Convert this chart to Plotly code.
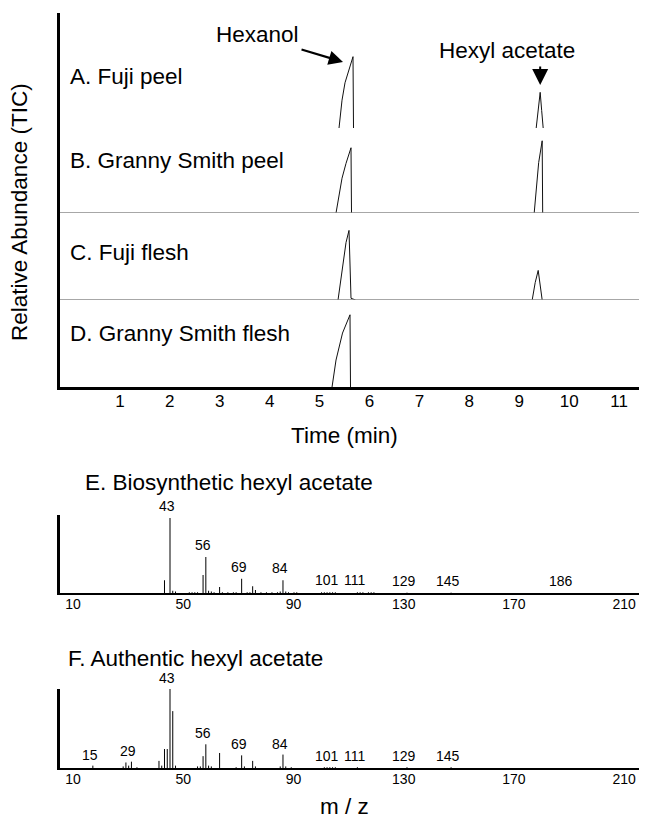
import plotly.graph_objects as go

# The page body adds an 8 px margin, so the figure is drawn 8 px smaller and
# reference pixel positions are mapped through px()/py() below.
W, H = 647, 819
OFF = 8
FW, FH = W - OFF, H - OFF
FONT = "Liberation Sans, Arial, Helvetica, sans-serif"

# ---------------- Chromatogram data (time in min, relative abundance) ----------------
a_time = [5.39, 5.45, 5.51, 5.61, 5.67, 5.68, None, 9.34, 9.38, 9.42, 9.45, 9.48]
a_abund = [0, 32, 52, 70, 82, 0, None, 0, 22, 41, 20, 0]

b_time = [5.33, 5.39, 5.45, 5.53, 5.63, 5.64, None, 9.30, 9.34, 9.39, 9.46, 9.47]
b_abund = [0, 21, 40, 57, 75, 0, None, 0, 30, 58, 83, 0]

c_time = [5.37, 5.46, 5.53, 5.59, 5.63, 5.72, None, 9.26, 9.32, 9.38, 9.42, 9.46]
c_abund = [0, 37, 66, 80, 2, 0, None, 0, 20, 34, 18, 0]

d_time = [5.25, 5.33, 5.46, 5.61, 5.62]
d_abund = [0, 31, 62, 83, 0]

panel_labels = ["A. Fuji peel", "B. Granny Smith peel", "C. Fuji flesh", "D. Granny Smith flesh"]
time_ticks = [1, 2, 3, 4, 5, 6, 7, 8, 9, 10, 11]

# ---------------- Mass spectra data (m/z, relative intensity %) ----------------
e_mz = [41, 43, 44, 45, 50, 51, 52, 53, 55, 56, 57, 58, 59, 61, 62, 64, 66, 67, 69, 71, 72,
        73, 74, 76, 78, 80, 82, 83, 84, 85, 86, 88, 89, 98, 99, 100, 101, 102, 103,
        111, 112, 113, 115, 116, 117, 129, 145]
e_int = [17, 100, 3, 2, 1, 1, 1, 1, 24, 48, 3, 2, 1, 8, 1, 1, 1, 1, 19, 1, 1,
         9, 4, 1, 1, 1, 1, 2, 17, 2, 1, 1, 1, 1, 1, 1, 1, 1, 1,
         1, 1, 1, 1, 1, 1, 0.5, 0.5]
e_labels = [43, 56, 69, 84, 101, 111, 129, 145, 186]

f_mz = [15, 26, 27, 28, 29, 31, 39, 40, 41, 42, 43, 44, 45, 53, 54, 55, 56, 57, 58, 61,
        67, 69, 70, 73, 74, 83, 84, 85, 87, 99, 100, 101, 102, 103, 111, 129, 145]
f_int = [3, 2, 7, 3, 8, 1, 9, 3, 24, 24, 100, 72, 3, 2, 2, 15, 30, 3, 2, 19,
         1, 16, 2, 9, 2, 2, 17, 2, 1, 1, 1, 1, 1, 1, 1, 1, 1]
f_labels = [15, 29, 43, 56, 69, 84, 101, 111, 129, 145]

mz_ticks = [10, 50, 90, 130, 170, 210]


def px(p):
    return (p - OFF) / FW


def py(p):
    return 1 - (p - OFF) / FH


def sticks(mz, inten):
    xs, ys = [], []
    for m, i in zip(mz, inten):
        xs += [m, m, None]
        ys += [0, i, None]
    return xs, ys


fig = go.Figure()

# chromatogram traces
for t, a, ya in [(a_time, a_abund, "y"), (b_time, b_abund, "y2"),
                 (c_time, c_abund, "y3"), (d_time, d_abund, "y4")]:
    fig.add_trace(go.Scatter(x=t, y=a, xaxis="x", yaxis=ya, mode="lines",
                             line=dict(color="#111111", width=1), connectgaps=False,
                             showlegend=False, hoverinfo="skip"))

# spectra
ex, ey = sticks(e_mz, e_int)
fig.add_trace(go.Scatter(x=ex, y=ey, xaxis="x2", yaxis="y5", mode="lines",
                         line=dict(color="black", width=1), showlegend=False))
fx, fy = sticks(f_mz, f_int)
fig.add_trace(go.Scatter(x=fx, y=fy, xaxis="x3", yaxis="y6", mode="lines",
                         line=dict(color="black", width=1), showlegend=False))

CH = 0.87  # px per abundance unit in chromatogram panels
panels = {"yaxis": (128, 13), "yaxis2": (213, 128), "yaxis3": (300, 213), "yaxis4": (387, 300)}
for name, (bot, top) in panels.items():
    fig.layout[name] = dict(domain=[py(bot), py(top)], range=[0, (bot - top) / CH],
                            anchor="x", showline=True, linecolor="black", linewidth=2.5,
                            showgrid=False, zeroline=False, showticklabels=False, ticks="")

fig.update_layout(
    width=FW, height=FH, margin=dict(l=0, r=0, t=0, b=0),
    paper_bgcolor="white", plot_bgcolor="white",
    font=dict(family=FONT, color="black"),
    xaxis=dict(domain=[px(60), 1], range=[-0.2, 11.56], anchor="y4",
               showline=True, linecolor="black", linewidth=3, showgrid=False,
               zeroline=False, tickvals=time_ticks, ticks="", ticklabelstandoff=-3,
               tickfont=dict(size=17, family=FONT)),
    xaxis2=dict(domain=[px(60), 1], range=[3.08, 216.1], anchor="y5",
                showline=True, linecolor="black", linewidth=1.5, showgrid=False,
                zeroline=False, tickvals=mz_ticks, ticks="", ticklabelshift=-6,
                ticklabelstandoff=-3, tickfont=dict(size=14, family=FONT)),
    yaxis5=dict(domain=[py(593), py(515)], range=[0, 104], anchor="x2",
                showline=True, linecolor="black", linewidth=2.5, showgrid=False,
                zeroline=False, showticklabels=False, ticks=""),
    xaxis3=dict(domain=[px(60), 1], range=[3.08, 216.1], anchor="y6",
                showline=True, linecolor="black", linewidth=1.5, showgrid=False,
                zeroline=False, tickvals=mz_ticks, ticks="", ticklabelshift=-6,
                ticklabelstandoff=-3, tickfont=dict(size=14, family=FONT)),
    yaxis6=dict(domain=[py(768), py(689)], range=[0, 100], anchor="x3",
                showline=True, linecolor="black", linewidth=2.5, showgrid=False,
                zeroline=False, showticklabels=False, ticks=""),
)

# separator baselines for panels B and C
for ya in ["y2", "y3"]:
    fig.add_shape(type="line", xref="paper", yref=ya, x0=px(60), x1=1, y0=0, y1=0,
                  line=dict(color="#8a8a8a", width=1.5))

BIG = 22.5


def txt(text, x, y, xanchor="center", size=BIG, **kw):
    return dict(text=text, xref="paper", yref="paper", x=px(x), y=py(y),
                xanchor=xanchor, yanchor="middle", showarrow=False,
                font=dict(size=size, family=FONT), **kw)


ann = []
label_y = [76, 160, 252, 333]
for lab, yy in zip(panel_labels, label_y):
    ann.append(txt(lab, 68, yy, xanchor="left"))

ann += [
    txt("Relative Abundance (TIC)", 19, 212, textangle=-90),
    txt("Time (min)", 345, 436),
    txt("Hexanol", 257, 35),
    txt("Hexyl acetate", 507, 50),
    dict(text="", xref="x", yref="y", x=5.47, y=(128 - 62) / CH, ax=-43, ay=-13,
         showarrow=True, arrowhead=2, arrowwidth=2.2, arrowsize=1.3, arrowcolor="black"),
    dict(text="", xref="x", yref="y", x=9.42, y=(128 - 85) / CH, ax=0, ay=-20,
         showarrow=True, arrowhead=2, arrowwidth=2, arrowsize=1.6, arrowcolor="black"),
    txt("E. Biosynthetic hexyl acetate", 83, 482, xanchor="left"),
    txt("F. Authentic hexyl acetate", 66, 658, xanchor="left"),
    txt("m / z", 344, 806),
]

e_lookup = dict(zip(e_mz, e_int))
for m in e_labels:
    ann.append(dict(text=str(m), xref="x2", yref="y5", x=m, y=e_lookup.get(m, 0.5),
                    xanchor="center", yanchor="bottom", xshift=-3, yshift=2,
                    showarrow=False, font=dict(size=14, family=FONT)))
f_lookup = dict(zip(f_mz, f_int))
for m in f_labels:
    ann.append(dict(text=str(m), xref="x3", yref="y6", x=m, y=f_lookup.get(m, 0.5),
                    xanchor="center", yanchor="bottom", xshift=-3, yshift=1,
                    showarrow=False, font=dict(size=14, family=FONT)))

fig.update_layout(annotations=ann)
fig.write_html("out.html")
